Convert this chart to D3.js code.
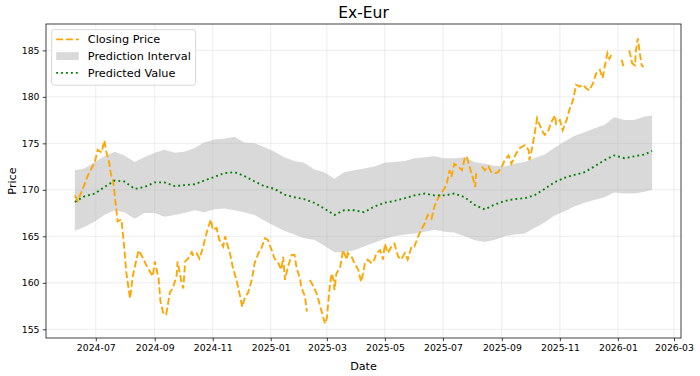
<!DOCTYPE html>
<html>
<head>
<meta charset="utf-8">
<script src="https://cdn.jsdelivr.net/npm/d3@7"></script>
<style>
  html, body { margin: 0; padding: 0; background: #fff; }
  svg { display: block; font-family: "DejaVu Sans", sans-serif; }
</style>
</head>
<body>
<svg id="chart" width="700" height="376"></svg>
<script>
// ---------------- data ----------------
const title = "Ex-Eur";
const xLabel = "Date";
const yLabel = "Price";
const legendLabels = ["Closing Price", "Prediction Interval", "Predicted Value"];
const yTicks = [155, 160, 165, 170, 175, 180, 185];

const closeDates = [
"2024-06-09","2024-06-12","2024-06-18","2024-06-23","2024-06-30","2024-07-03","2024-07-07","2024-07-10","2024-07-12","2024-07-15",
"2024-07-17","2024-07-19","2024-07-23","2024-07-24","2024-07-28","2024-07-31","2024-08-02","2024-08-06","2024-08-09","2024-08-13",
"2024-08-15","2024-08-20","2024-08-23","2024-08-27","2024-08-30","2024-09-01","2024-09-05","2024-09-07","2024-09-10","2024-09-13",
"2024-09-17","2024-09-20","2024-09-24","2024-09-25","2024-09-29","2024-10-01","2024-10-03","2024-10-06","2024-10-10","2024-10-11",
"2024-10-15","2024-10-18","2024-10-22","2024-10-24","2024-10-27","2024-10-30","2024-11-01","2024-11-05","2024-11-08","2024-11-12",
"2024-11-14","2024-11-17","2024-11-19","2024-11-22","2024-11-26","2024-11-29","2024-12-02","2024-12-05","2024-12-08","2024-12-12",
"2024-12-15","2024-12-19","2024-12-22","2024-12-26","2024-12-29","2025-01-02","2025-01-05","2025-01-09","2025-01-12","2025-01-14",
"2025-01-16","2025-01-19","2025-01-23","2025-01-26","2025-01-28","2025-02-01","2025-02-02","2025-02-06","2025-02-08","2025-02-09",
"2025-02-11","2025-02-15","2025-02-18","2025-02-20","2025-02-23","2025-02-27","2025-03-01","2025-03-02","2025-03-04","2025-03-06",
"2025-03-08","2025-03-09","2025-03-11","2025-03-15","2025-03-18","2025-03-22","2025-03-23","2025-03-27","2025-03-30","2025-04-03",
"2025-04-06","2025-04-08","2025-04-10","2025-04-13","2025-04-17","2025-04-20","2025-04-22","2025-04-26","2025-04-29","2025-05-01",
"2025-05-04","2025-05-08","2025-05-11","2025-05-15","2025-05-18","2025-05-22","2025-05-25","2025-05-29","2025-06-01","2025-06-05",
"2025-06-08","2025-06-12","2025-06-15","2025-06-19","2025-06-22","2025-06-26","2025-06-29","2025-07-03","2025-07-05","2025-07-08",
"2025-07-10","2025-07-13","2025-07-17","2025-07-21","2025-07-24","2025-07-26","2025-07-29","2025-07-31","2025-08-02","2025-08-04",
"2025-08-05","2025-08-08","2025-08-11","2025-08-14","2025-08-18","2025-08-21","2025-08-25","2025-08-28","2025-09-01","2025-09-04",
"2025-09-08","2025-09-11","2025-09-16","2025-09-20","2025-09-25","2025-09-29","2025-09-30","2025-10-03","2025-10-06","2025-10-08",
"2025-10-13","2025-10-16","2025-10-20","2025-10-23","2025-10-27","2025-10-28","2025-11-01","2025-11-04","2025-11-08","2025-11-11",
"2025-11-15","2025-11-18","2025-11-22","2025-11-25","2025-11-29","2025-12-02","2025-12-06","2025-12-09","2025-12-13","2025-12-16",
"2025-12-18","2025-12-21","2025-12-23","2025-12-25","2025-12-30","2026-01-05","2026-01-07","2026-01-10","2026-01-13","2026-01-16",
"2026-01-19","2026-01-20","2026-01-22","2026-01-24","2026-01-26","2026-01-28"
];
const closeValues = [
169.4,168.8,170.3,171.6,173.0,174.3,174.0,175.3,174.1,173.0,
171.6,171.2,167.5,166.6,166.8,163.7,161.2,158.3,160.8,162.6,
163.5,162.6,161.9,161.2,160.7,162.3,160.5,158.0,156.7,156.6,
159.0,159.4,160.8,162.3,160.1,159.4,162.3,162.6,163.3,163.0,
163.2,162.6,163.9,164.8,165.9,166.8,165.7,165.9,164.6,163.9,
165.0,163.9,163.2,161.7,160.3,158.9,157.4,158.5,158.9,160.3,
162.1,163.2,163.7,164.8,164.6,163.5,162.6,162.1,161.4,162.8,
160.3,161.7,163.0,163.0,161.7,160.3,159.6,158.5,156.9,null,
160.3,159.6,158.9,158.2,157.1,155.6,156.2,157.4,159.6,161.0,
160.3,159.2,161.0,161.7,163.5,162.5,163.2,162.8,162.1,161.4,
160.1,161.0,162.1,162.5,162.1,162.5,163.2,163.5,162.5,164.2,
163.2,163.9,164.2,162.8,162.5,163.2,162.5,163.9,163.9,165.0,
165.7,166.4,167.3,166.9,168.2,169.1,169.6,170.2,170.7,172.1,
171.4,172.8,172.5,172.1,173.4,173.6,172.5,171.8,171.1,170.3,
171.8,null,172.5,172.1,172.5,171.9,171.8,171.9,172.5,173.2,
173.7,172.8,173.9,174.5,174.8,174.3,173.2,174.6,176.4,177.7,
176.4,175.9,176.4,177.3,178.0,177.1,177.5,176.4,177.5,178.6,
179.7,181.3,181.1,181.3,180.9,180.7,181.5,182.5,182.9,182.0,
183.2,184.7,184.1,184.5,null,184.0,183.2,null,185.0,183.6,
183.4,185.0,186.3,184.7,183.4,183.2
];

const bandDates = [
"2024-06-09","2024-06-19","2024-06-30","2024-07-10","2024-07-21","2024-07-31","2024-08-11","2024-08-21","2024-09-01","2024-09-11",
"2024-09-22","2024-10-02","2024-10-13","2024-10-23","2024-11-03","2024-11-13","2024-11-24","2024-12-04","2024-12-15","2024-12-25",
"2025-01-05","2025-01-15","2025-01-26","2025-02-05","2025-02-16","2025-02-26","2025-03-09","2025-03-19","2025-03-30","2025-04-09",
"2025-04-20","2025-04-30","2025-05-11","2025-05-22","2025-06-01","2025-06-12","2025-06-22","2025-07-03","2025-07-13","2025-07-24",
"2025-08-03","2025-08-14","2025-08-24","2025-09-04","2025-09-14","2025-09-25","2025-10-05","2025-10-16","2025-10-26","2025-11-06",
"2025-11-16","2025-11-27","2025-12-07","2025-12-18","2025-12-28","2026-01-08","2026-01-18","2026-01-29","2026-02-06"
];
const upperValues = [
172.1,172.3,173.0,173.6,174.1,173.7,173.0,173.5,174.0,174.3,
174.0,174.1,174.5,175.1,175.4,175.5,175.7,175.1,175.0,174.6,
174.1,173.5,173.1,172.9,172.2,171.9,171.2,171.9,172.1,172.3,
172.5,172.9,173.0,173.1,173.4,173.5,173.6,173.4,173.4,173.5,
173.0,172.8,172.6,172.5,172.8,173.0,173.4,173.8,174.5,175.2,
175.8,176.2,176.6,177.0,177.8,177.5,177.5,177.9,178.0
];
const lowerValues = [
165.6,166.0,166.6,167.3,167.8,167.6,166.9,167.5,167.5,167.1,
167.3,167.5,167.8,167.6,167.9,168.0,167.8,167.6,167.3,166.7,
166.1,165.6,165.2,164.8,164.6,164.0,163.3,163.3,163.5,163.9,
164.3,164.7,165.0,165.2,165.3,165.5,165.7,165.5,165.4,165.0,
164.6,164.4,164.6,165.0,165.2,165.3,165.9,166.5,167.2,167.7,
168.2,168.6,168.9,169.2,169.7,169.6,169.6,169.8,170.0
];
const predictedValues = [
168.7,169.3,169.6,170.3,171.0,170.9,170.1,170.3,170.8,170.8,
170.4,170.5,170.6,171.0,171.4,171.8,171.9,171.5,170.9,170.4,
170.1,169.5,169.2,169.0,168.6,168.0,167.3,167.8,167.8,167.6,
168.2,168.6,168.8,169.1,169.4,169.6,169.4,169.4,169.6,169.2,
168.4,167.9,168.4,168.8,169.0,169.1,169.4,170.1,170.8,171.3,
171.6,171.9,172.5,173.2,173.7,173.4,173.6,173.8,174.2
];

// ---------------- layout ----------------
const W = 700, H = 376;
const margin = { left: 46, right: 700 - 681, top: 24, bottom: 376 - 338 };
const pw = W - margin.left - margin.right;
const ph = H - margin.top - margin.bottom;
const k = 0.93; // px per pt

const parse = d3.utcParse("%Y-%m-%d");
const close = closeDates.map((d, i) => ({ date: parse(d), v: closeValues[i] }));
const band = bandDates.map((d, i) => ({ date: parse(d), hi: upperValues[i], lo: lowerValues[i], p: predictedValues[i] }));

const allDates = close.map(d => d.date).concat(band.map(d => d.date));
const [x0, x1] = d3.extent(allDates);
const xPad = (x1 - x0) * 0.05;
const allVals = closeValues.filter(v => v != null).concat(upperValues, lowerValues);
const [y0, y1] = d3.extent(allVals);
const yPad = (y1 - y0) * 0.05;

const x = d3.scaleUtc().domain([new Date(+x0 - xPad), new Date(+x1 + xPad)]).range([0, pw]);
const y = d3.scaleLinear().domain([y0 - yPad, y1 + yPad]).range([ph, 0]);

const svg = d3.select("#chart");
svg.append("rect").attr("width", W).attr("height", H).attr("fill", "#fff");
const g = svg.append("g").attr("transform", `translate(${margin.left},${margin.top})`);

// clip
svg.append("defs").append("clipPath").attr("id", "clip")
  .append("rect").attr("width", pw).attr("height", ph);

const xTicks = x.ticks(d3.utcMonth.every(2));

// band (zorder 1)
const area = d3.area().x(d => x(d.date)).y0(d => y(d.lo)).y1(d => y(d.hi));
g.append("path").datum(band).attr("d", area)
  .attr("fill", "gray").attr("fill-opacity", 0.3).attr("stroke", "none")
  .attr("clip-path", "url(#clip)");

// grid (above band)
const grid = g.append("g").attr("class", "grid");
grid.selectAll("line.vx").data(xTicks).join("line")
  .attr("x1", d => x(d)).attr("x2", d => x(d)).attr("y1", 0).attr("y2", ph)
  .attr("stroke", "#b0b0b0").attr("stroke-opacity", 0.3).attr("stroke-width", 0.8 * k);
grid.selectAll("line.hy").data(yTicks).join("line")
  .attr("y1", d => y(d)).attr("y2", d => y(d)).attr("x1", 0).attr("x2", pw)
  .attr("stroke", "#b0b0b0").attr("stroke-opacity", 0.3).attr("stroke-width", 0.8 * k);

// closing price
const lw = 2 * k;
const lineClose = d3.line().defined(d => d.v != null).x(d => x(d.date)).y(d => y(d.v));
g.append("path").datum(close).attr("d", lineClose)
  .attr("fill", "none").attr("stroke", "orange").attr("stroke-width", lw)
  .attr("stroke-dasharray", `${3.7 * lw},${1.6 * lw}`)
  .attr("clip-path", "url(#clip)");

// predicted
const linePred = d3.line().x(d => x(d.date)).y(d => y(d.p));
g.append("path").datum(band).attr("d", linePred)
  .attr("fill", "none").attr("stroke", "green").attr("stroke-width", lw)
  .attr("stroke-dasharray", `${1 * lw},${1.65 * lw}`)
  .attr("clip-path", "url(#clip)");

// axes
const tickLen = 3.5 * k;
const xAxis = d3.axisBottom(x).tickValues(xTicks).tickFormat(d3.utcFormat("%Y-%m"))
  .tickSize(tickLen).tickPadding(3.5 * k);
const yAxis = d3.axisLeft(y).tickValues(yTicks).tickFormat(d3.format("d"))
  .tickSize(tickLen).tickPadding(3.5 * k);

const gx = g.append("g").attr("transform", `translate(0,${ph})`).call(xAxis);
const gy = g.append("g").call(yAxis);
[gx, gy].forEach(a => {
  a.select(".domain").remove();
  a.selectAll(".tick line").attr("stroke", "#000").attr("stroke-width", 0.8 * k);
  a.selectAll(".tick text").attr("fill", "#000").attr("font-size", 9.3)
    .attr("font-family", "DejaVu Sans, sans-serif");
});

// frame
g.append("rect").attr("width", pw).attr("height", ph)
  .attr("fill", "none").attr("stroke", "#000").attr("stroke-width", 0.8 * k);

// title & labels
svg.append("text").attr("x", margin.left + pw / 2).attr("y", margin.top - 6 * k)
  .attr("text-anchor", "middle").attr("font-size", 15.5).attr("fill", "#000").text(title);
svg.append("text").attr("x", margin.left + pw / 2).attr("y", 370)
  .attr("text-anchor", "middle").attr("font-size", 11.2).attr("fill", "#000").text(xLabel);
svg.append("text").attr("transform", `translate(16,${margin.top + ph / 2}) rotate(-90)`)
  .attr("text-anchor", "middle").attr("font-size", 11.2).attr("fill", "#000").text(yLabel);

// legend
const fs = 11.3;
const lg = g.append("g").attr("transform", `translate(${0.5 * fs},${0.5 * fs})`);
const bp = 0.4 * fs, hl = 2 * fs, htp = 0.8 * fs, rowH = fs * 1.48;
const lgW = 144, lgH = bp * 2 + rowH * 3 - 0.5 * fs + 2;
lg.append("rect").attr("width", lgW).attr("height", lgH).attr("rx", 2.5).attr("ry", 2.5)
  .attr("fill", "#fff").attr("fill-opacity", 0.8)
  .attr("stroke", "#cccccc").attr("stroke-width", 0.8 * k);
const rowY = i => bp + 5.2 + i * rowH;
// closing price handle
lg.append("line").attr("x1", bp).attr("x2", bp + hl).attr("y1", rowY(0)).attr("y2", rowY(0))
  .attr("stroke", "orange").attr("stroke-width", lw).attr("stroke-dasharray", `${3.7 * lw},${1.6 * lw}`);
// interval handle
lg.append("rect").attr("x", bp).attr("y", rowY(1) - 0.35 * fs).attr("width", hl).attr("height", 0.7 * fs)
  .attr("fill", "gray").attr("fill-opacity", 0.3);
// predicted handle
lg.append("line").attr("x1", bp).attr("x2", bp + hl).attr("y1", rowY(2)).attr("y2", rowY(2))
  .attr("stroke", "green").attr("stroke-width", lw).attr("stroke-dasharray", `${1 * lw},${1.65 * lw}`);
legendLabels.forEach((t, i) => {
  lg.append("text").attr("x", bp + hl + htp).attr("y", rowY(i)).attr("dy", "0.36em")
    .attr("font-size", fs).attr("fill", "#000").text(t);
});
</script>
</body>
</html>
